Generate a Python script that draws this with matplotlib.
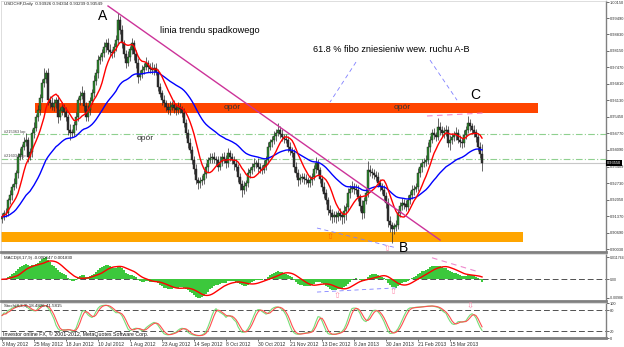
import matplotlib
matplotlib.use('Agg')
import matplotlib.pyplot as plt
import numpy as np
import pandas as pd

plt.rcParams['font.family'] = ['Liberation Sans', 'DejaVu Sans']

# daily USDCHF closes, in pips (x 0.0001)
close_pips = [
	9135, 9150, 9150, 9204, 9225, 9257, 9270, 9314, 9380, 9390,
	9421, 9440, 9450, 9380, 9400, 9478, 9500, 9544, 9573, 9620,
	9683, 9700, 9724, 9613, 9600, 9585, 9600, 9613, 9544, 9570,
	9585, 9565, 9544, 9491, 9480, 9478, 9510, 9544, 9613, 9630,
	9642, 9590, 9544, 9573, 9610, 9642, 9690, 9724, 9777, 9790,
	9806, 9830, 9847, 9818, 9810, 9806, 9830, 9859, 9941, 9900,
	9847, 9800, 9765, 9790, 9820, 9847, 9800, 9765, 9708, 9720,
	9736, 9750, 9765, 9749, 9740, 9736, 9745, 9728, 9667, 9640,
	9613, 9600, 9585, 9573, 9585, 9593, 9580, 9573, 9585, 9575,
	9560, 9520, 9478, 9437, 9410, 9368, 9330, 9286, 9273, 9280,
	9286, 9310, 9339, 9368, 9375, 9380, 9372, 9368, 9339, 9360,
	9380, 9370, 9355, 9396, 9380, 9368, 9350, 9339, 9298, 9270,
	9245, 9260, 9273, 9314, 9325, 9339, 9350, 9355, 9339, 9330,
	9327, 9345, 9368, 9421, 9440, 9450, 9465, 9478, 9491, 9475,
	9462, 9455, 9450, 9421, 9405, 9396, 9340, 9314, 9286, 9295,
	9298, 9290, 9286, 9273, 9285, 9298, 9330, 9355, 9327, 9290,
	9257, 9230, 9204, 9163, 9150, 9134, 9140, 9134, 9150, 9140,
	9134, 9160, 9175, 9232, 9250, 9257, 9250, 9245, 9216, 9180,
	9150, 9200, 9232, 9327, 9320, 9314, 9305, 9298, 9273, 9260,
	9245, 9220, 9192, 9118, 9100, 9085, 9095, 9101, 9150, 9180,
	9192, 9185, 9175, 9204, 9225, 9245, 9250, 9257, 9314, 9340,
	9355, 9360, 9368, 9421, 9450, 9478, 9470, 9462, 9503, 9490,
	9478, 9485, 9491, 9437, 9450, 9462, 9470, 9478, 9450, 9440,
	9437, 9470, 9491, 9519, 9505, 9491, 9480, 9462, 9421, 9393,
	9355,
]
first_open = 9128

# upper / lower shadows in pips
up_wick = [
	15, 12, 20, 10, 18, 14, 22, 12, 16, 25,
	14, 20, 30, 12, 18, 15, 22, 14, 20, 18,
	16, 45, 12, 20, 15, 24, 18, 12, 22, 16,
	20, 14, 18, 12, 26, 15, 18, 20, 14, 22,
	30, 12, 16, 20, 14, 18, 24, 16, 20, 14,
	18, 22, 15, 20, 26, 14, 18, 22, 30, 16,
	20, 14, 18, 24, 16, 20, 14, 18, 22, 15,
	20, 16, 24, 14, 18, 28, 16, 20, 14, 18,
	16, 22, 14, 18, 25, 15, 20, 16, 22, 18,
	14, 20, 16, 18, 22, 14, 16, 20, 12, 18,
	20, 16, 18, 14, 22, 16, 20, 14, 18, 24,
	16, 20, 18, 22, 14, 18, 16, 20, 14, 18,
	16, 20, 14, 22, 16, 18, 24, 14, 20, 16,
	18, 22, 16, 20, 14, 18, 22, 16, 30, 18,
	20, 14, 18, 16, 22, 14, 18, 20, 16, 14,
	18, 16, 20, 14, 22, 18, 16, 24, 18, 14,
	16, 20, 18, 14, 22, 16, 20, 18, 14, 20,
	16, 22, 18, 20, 14, 24, 16, 18, 20, 14,
	22, 18, 16, 35, 20, 14, 18, 16, 22, 18,
	14, 20, 16, 18, 22, 14, 16, 20, 18, 16,
	20, 14, 18, 22, 16, 20, 14, 18, 22, 16,
	18, 14, 20, 22, 16, 18, 20, 14, 35, 20,
	16, 18, 22, 14, 20, 16, 18, 24, 16, 20,
	18, 22, 16, 30, 18, 14, 20, 16, 18, 20,
	40,
]
down_wick = [
	20, 14, 16, 12, 18, 20, 14, 16, 22, 12,
	18, 14, 16, 22, 12, 18, 20, 14, 16, 20,
	14, 18, 16, 22, 20, 14, 16, 18, 24, 14,
	18, 20, 16, 22, 30, 18, 14, 20, 16, 18,
	14, 22, 18, 16, 20, 14, 18, 16, 22, 14,
	16, 18, 20, 14, 18, 22, 16, 14, 20, 18,
	22, 16, 20, 14, 18, 16, 22, 20, 26, 14,
	16, 18, 14, 20, 16, 18, 22, 14, 18, 16,
	20, 14, 18, 16, 22, 14, 18, 20, 16, 14,
	18, 16, 22, 20, 14, 18, 20, 16, 24, 18,
	14, 18, 16, 20, 14, 18, 16, 22, 18, 14,
	18, 16, 20, 14, 18, 16, 22, 18, 20, 24,
	28, 16, 18, 14, 20, 16, 18, 14, 20, 16,
	18, 14, 20, 16, 14, 18, 16, 20, 14, 18,
	16, 18, 14, 20, 16, 18, 20, 16, 24, 18,
	16, 20, 18, 14, 16, 18, 14, 16, 20, 18,
	16, 20, 18, 22, 30, 26, 20, 24, 18, 20,
	28, 24, 40, 16, 18, 14, 20, 16, 18, 22,
	26, 18, 14, 16, 18, 20, 16, 18, 14, 20,
	18, 22, 20, 24, 26, 57, 22, 20, 18, 16,
	18, 20, 16, 14, 18, 16, 20, 14, 18, 16,
	20, 14, 18, 16, 20, 14, 18, 16, 14, 18,
	16, 20, 18, 14, 30, 18, 16, 20, 14, 18,
	22, 16, 18, 14, 20, 16, 18, 22, 16, 18,
	31,
]

date_ticks = [0, 16, 32, 48, 64, 80, 96, 112, 128, 144, 160, 176, 192, 208, 224]
date_labels = ['3 May 2012', '25 May 2012', '18 Jun 2012', '10 Jul 2012',
	'1 Aug 2012', '23 Aug 2012', '14 Sep 2012', '8 Oct 2012', '30 Oct 2012',
	'21 Nov 2012', '13 Dec 2012', '8 Jan 2013', '30 Jan 2013', '21 Feb 2013',
	'15 Mar 2013']
price_ticks = [1.00150, 0.99490, 0.98830, 0.98150, 0.97470, 0.96810, 0.96130,
	0.95450, 0.94770, 0.94090, 0.93409, 0.92730, 0.92050, 0.91370, 0.90690,
	0.90030]
macd_tick_labels = ['0.011764', '0.00', '-0.00986']

# drawn objects (bar index, price)
trend_x, trend_y = [53, 219], [0.99986, 0.90399]
fibo1_x, fibo1_y = [177, 164], [0.9769, 0.9605]
fibo2_x, fibo2_y = [214, 227.5], [0.9777, 0.9613]
low_x, low_y = [157.5, 197.5], [0.9089, 0.9007]
top_x, top_y = [212.5, 240.5], [0.9548, 0.9560]
resist_band = (16.5, 268, 0.9560, 0.9601)
support_band = (-1, 260.5, 0.9032, 0.9073)
green_levels = [0.9474, 0.9372]
# MACD panel objects, as fraction of panel height from the bottom
macd_blue_x, macd_blue_y = [157.5, 197.5], [0.19, 0.28]
macd_pink_x, macd_pink_y = [215, 237.5], [0.92, 0.63]

closes = np.array(close_pips) / 10000.0
opens = np.r_[first_open / 10000.0, closes[:-1]]
highs = np.maximum(opens, closes) + np.array(up_wick) / 10000.0
lows = np.minimum(opens, closes) - np.array(down_wick) / 10000.0
n = len(closes)
x = np.arange(n)

cs = pd.Series(closes)
ma_fast = cs.rolling(9, min_periods=1).mean()
ma_slow = cs.ewm(span=38, adjust=False).mean()
macd = cs.ewm(span=8, adjust=False).mean() - cs.ewm(span=17, adjust=False).mean()
signal = macd.rolling(9, min_periods=1).mean()
hs, ls = pd.Series(highs), pd.Series(lows)
ll = ls.rolling(8, min_periods=1).min()
hh = hs.rolling(8, min_periods=1).max()
stoch_k = (cs - ll).rolling(5, min_periods=1).sum() / (hh - ll).rolling(5, min_periods=1).sum() * 100
stoch_d = stoch_k.rolling(3, min_periods=1).mean()

fig = plt.figure(figsize=(6.24, 3.47), dpi=100)
L, W = 0.0016, 0.9696
ax = fig.add_axes([L, 0.2738, W, 0.7233])
axm = fig.add_axes([L, 0.1326, W, 0.1354])
axs = fig.add_axes([L, 0.0259, W, 0.1009])

grey = '#808080'
for a in (ax, axm, axs):
	a.set_xlim(-0.5, 302)
	a.yaxis.tick_right()
	a.tick_params(axis='y', length=2, width=0.5, pad=0.8, labelsize=2.9, colors='#303030')
	a.tick_params(axis='x', length=0)
	a.set_xticks([])
	for s in ('top', 'left'):
		a.spines[s].set_color('#d0d0d0')
		a.spines[s].set_linewidth(0.5)
	a.spines['right'].set_color(grey)
	a.spines['right'].set_linewidth(1.0)
	a.spines['bottom'].set_color(grey)
	a.spines['bottom'].set_linewidth(2.0)

# main price panel
ax.set_ylim(0.89908, 1.00191)
ax.set_yticks(price_ticks, ['%.5f' % p for p in price_ticks])
ax.fill_between(resist_band[:2], resist_band[2], resist_band[3], color='#ff4500', lw=0, zorder=1)
ax.fill_between(support_band[:2], support_band[2], support_band[3], color='#ffa500', lw=0, zorder=1)
for lv in green_levels:
	ax.axhline(lv, color='#8fd08f', lw=0.8, ls=(0, (6, 2, 1, 2)), zorder=1)
ax.axhline(closes[-1], color='#c8c8c8', lw=0.8, zorder=1)

bull = closes >= opens
ax.vlines(x, lows, highs, color='#2a2a2a', lw=0.5, zorder=3)
ax.bar(x[bull], (closes - opens)[bull] + 0.00005, bottom=opens[bull], width=0.75,
	color='#2e8b2e', edgecolor='#1a1a1a', lw=0.3, zorder=3)
ax.bar(x[~bull], (opens - closes)[~bull] + 0.00005, bottom=closes[~bull], width=0.75,
	color='#303030', edgecolor='#1a1a1a', lw=0.3, zorder=3)
ax.plot(x, ma_slow, color='#0000ff', lw=1.0, zorder=4)
ax.plot(x, ma_fast, color='#ff0000', lw=1.0, zorder=4)

ax.plot(trend_x, trend_y, color='#cc3399', lw=1.0, zorder=5)
for lx, ly in ((fibo1_x, fibo1_y), (fibo2_x, fibo2_y), (low_x, low_y)):
	ax.plot(lx, ly, color='#7f7fff', lw=0.6, ls=(0, (5, 4)), zorder=5)
ax.plot(top_x, top_y, color='#ee88cc', lw=0.8, ls=(0, (5, 4)), zorder=5)

ax.text(50.5, 0.9958, 'A', fontsize=10, ha='center', va='center', zorder=6)
ax.text(200.5, 0.9007, 'B', fontsize=10, ha='center', va='center', zorder=6)
ax.text(236.5, 0.9634, 'C', fontsize=10, ha='center', va='center', zorder=6)
ax.text(79, 0.9900, 'linia trendu spadkowego', fontsize=6.6, va='center', zorder=6)
ax.text(155.5, 0.9822, '61.8 % fibo zniesieniw wew. ruchu A-B', fontsize=6.6, va='center', zorder=6)
for ox, oy in ((115, 0.9582), (200, 0.9582), (71.5, 0.9454)):
	ax.text(ox, oy, 'opór', fontsize=6, ha='center', va='center', color='#333333', zorder=6)
ax.text(164, 0.9056, '⇧', fontsize=6, color='#ff6600', ha='center', va='center',
	family='DejaVu Sans', zorder=6)
ax.text(192.5, 0.9004, '⇧', fontsize=6, color='#ff88aa', ha='center', va='center',
	family='DejaVu Sans', zorder=6)
ax.text(1, green_levels[0] + 0.0006, '#215363 lop', fontsize=2.8, color='#404040', zorder=6)
ax.text(1, green_levels[1] + 0.0006, '#216034 lop', fontsize=2.8, color='#404040', zorder=6)
ax.text(0.005, 0.995, 'USDCHF,Daily  0.93926 0.94334 0.93239 0.93549', transform=ax.transAxes,
	fontsize=3.2, va='top', color='#202020', zorder=6)
ax.text(1.0 + 0.001, closes[-1], '%.5f' % closes[-1], transform=ax.get_yaxis_transform(),
	fontsize=2.9, color='white', va='center', ha='left',
	bbox=dict(facecolor='black', edgecolor='none', pad=0.6), zorder=7, clip_on=False)

# MACD panel, scaled to its own range like the terminal does
mtop = max(macd.max(), signal.max())
mbot = min(macd.min(), signal.min())
span = mtop - mbot
axm.set_ylim(mbot - 0.08 * span, mtop + 0.08 * span)
axm.set_yticks([mtop, 0.0, mbot], macd_tick_labels)
axm.tick_params(axis='y', labelsize=2.5, pad=0.5)
axm.bar(x, macd, width=0.55, color='#3cc83c', lw=0, zorder=2)
axm.plot(x, signal, color='#ff0000', lw=1.0, zorder=3)
axm.axhline(0, color='#505050', lw=0.7, ls=(0, (6, 3)), zorder=1)
axm.plot(macd_blue_x, macd_blue_y, color='#7f7fff', lw=0.6, ls=(0, (5, 4)),
	transform=axm.get_xaxis_transform(), zorder=4)
axm.plot(macd_pink_x, macd_pink_y, color='#ee88cc', lw=0.8, ls=(0, (5, 4)),
	transform=axm.get_xaxis_transform(), zorder=4)
axm.text(167.5, 0.12, '⇧', fontsize=6, color='#ff88aa', ha='center', va='center',
	family='DejaVu Sans', transform=axm.get_xaxis_transform(), zorder=5)
axm.text(195.5, 0.2, '⇧', fontsize=6, color='#ff88aa', ha='center', va='center',
	family='DejaVu Sans', transform=axm.get_xaxis_transform(), zorder=5)
axm.text(0.005, 0.96, 'MACD(8,17,9) -0.000647 0.001830', transform=axm.transAxes,
	fontsize=3.2, va='top', color='#202020', zorder=6)

# Stochastic panel
axs.set_ylim(0, 100)
axs.set_yticks([100, 80, 20, 0], ['100', '80', '20', '0'])
axs.axhline(80, color='#505050', lw=0.7, ls=(0, (6, 3)), zorder=1)
axs.axhline(20, color='#505050', lw=0.7, ls=(0, (6, 3)), zorder=1)
axs.plot(x, stoch_k, color='#77dd77', lw=0.8, zorder=2)
axs.plot(x, stoch_d, color='#ff5050', lw=0.8, zorder=3)
axs.text(234, 92, '⇩', fontsize=6, color='#ff88aa', ha='center', va='center',
	family='DejaVu Sans', zorder=5)
axs.text(0.005, 0.97, 'Stoch(8,3,3) 18.4826 41.5815', transform=axs.transAxes,
	fontsize=3.2, va='top', color='#202020', zorder=6)
axs.text(0.004, 0.04, 'Investor online FX, © 2001-2012, MetaQuotes Software Corp.',
	transform=axs.transAxes, fontsize=3.8, va='bottom', color='#101010', zorder=6)
axs.set_xticks(date_ticks, date_labels, ha='left')
axs.tick_params(axis='x', length=2, width=0.5, pad=1, labelsize=3.6, colors='#303030')

fig.savefig('out.png', dpi=100)
